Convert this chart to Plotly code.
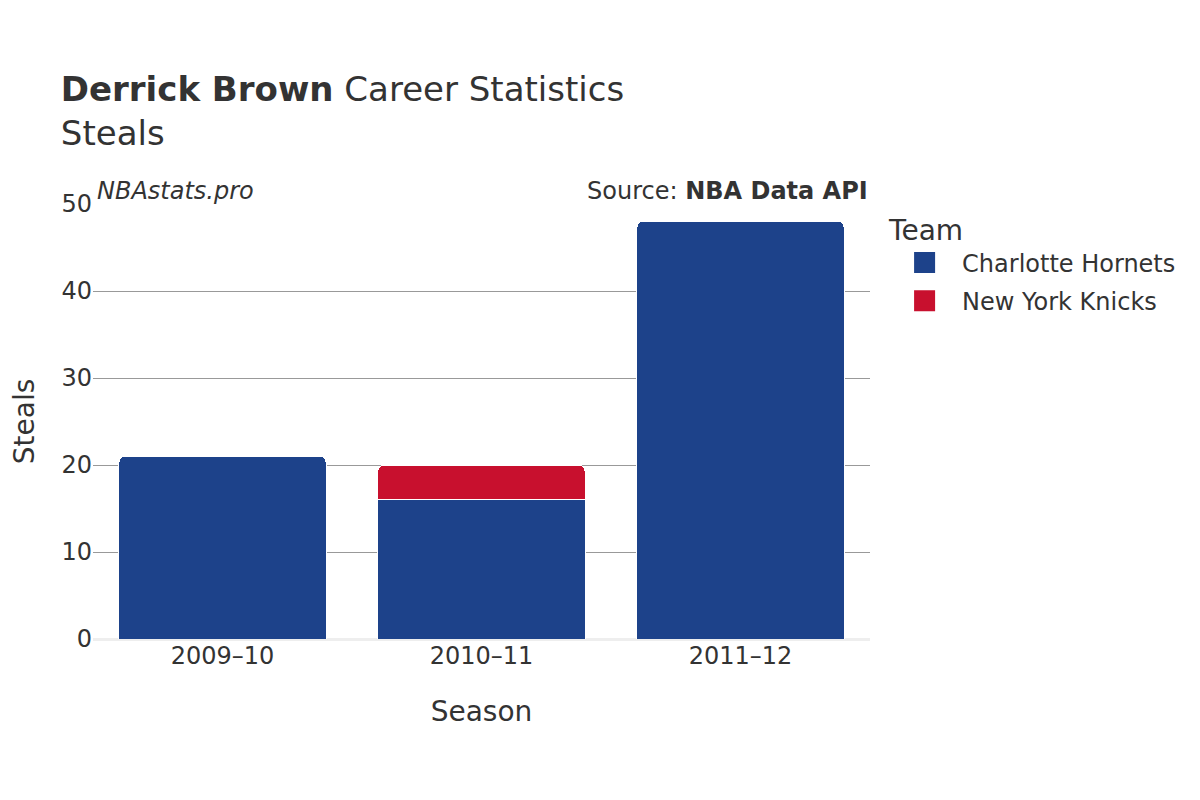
import plotly.graph_objects as go

seasons = ["2009–10", "2010–11", "2011–12"]
hornets = [21, 16, 48]
knicks = [None, 4, None]

teams = ["Charlotte Hornets", "New York Knicks"]
colors = ["#1d428a", "#c8102e"]

fig = go.Figure()
for name, vals, col in zip(teams, [hornets, knicks], colors):
    fig.add_trace(go.Bar(x=seasons, y=vals, name=name, marker_color=col,
                         marker_line_color="white", marker_line_width=1,
                         showlegend=False, legendgroup=name))
# legend proxies with larger symbols
for name, col in zip(teams, colors):
    fig.add_trace(go.Scatter(x=[None], y=[None], mode="markers", name=name,
                             legendgroup=name,
                             marker=dict(symbol="square", size=16, color=col,
                                         line=dict(color=col, width=7))))

font_family = "DejaVu Sans"
fig.update_layout(
    barmode="stack",
    barcornerradius=6,
    bargap=0.2,
    width=1200, height=800,
    paper_bgcolor="white", plot_bgcolor="white",
    font=dict(family=font_family, color="#333333", size=24),
    margin=dict(l=85, r=338, t=196, b=169, autoexpand=False),
    title=dict(
        text="<b>Derrick Brown</b> Career Statistics<br>Steals",
        x=0.044, xanchor="left", y=0.884, yanchor="top",
        font=dict(size=34, color="#333333"),
    ),
    xaxis=dict(title=dict(text="Season", font=dict(size=28), standoff=32),
               tickfont=dict(size=24), showgrid=False, ticks=""),
    yaxis=dict(title=dict(text="Steals", font=dict(size=28), standoff=37),
               tickfont=dict(size=24),
               range=[0, 50], dtick=10, showgrid=True, gridcolor="#999999", gridwidth=1,
               zeroline=True, zerolinecolor="#eeeeee", zerolinewidth=3),
    legend=dict(title=dict(text="Team", font=dict(size=28)), font=dict(size=24),
                traceorder="grouped", tracegroupgap=4, itemwidth=65,
                x=1.022, y=1.0, xanchor="left", yanchor="top"),
    annotations=[
        dict(text="<i>NBAstats.pro</i>", x=0, y=1, xref="paper", yref="paper",
             xanchor="left", yanchor="bottom", showarrow=False, font=dict(size=24),
             yshift=-3, xshift=2),
        dict(text="Source: <b>NBA Data API</b>", x=1, y=1, xref="paper", yref="paper",
             xanchor="right", yanchor="bottom", showarrow=False, font=dict(size=24),
             yshift=-3),
    ],
)

fig.write_html("out.html")
